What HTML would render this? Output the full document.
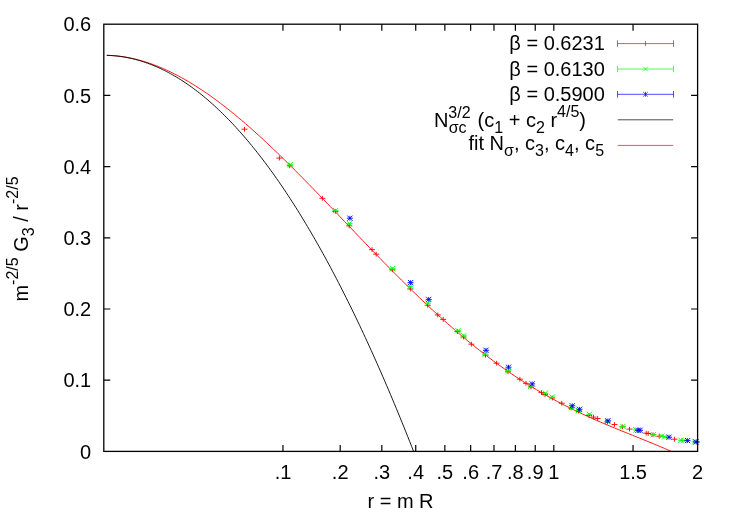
<!DOCTYPE html>
<html><head><meta charset="utf-8"><title>plot</title>
<style>
html,body{margin:0;padding:0;background:#fff;}
svg{display:block;will-change:transform}
text{font-family:"Liberation Sans",sans-serif;font-size:20px;fill:#000}
.s{font-size:16px}
.g{font-family:"Liberation Serif",serif;}
</style></head><body>
<svg width="732" height="513" viewBox="0 0 732 513">
<rect width="732" height="513" fill="#fff"/>
<path d="M103.8,380.2h6.5M697.6,380.2h-6.5M103.8,309h6.5M697.6,309h-6.5M103.8,237.8h6.5M697.6,237.8h-6.5M103.8,166.6h6.5M697.6,166.6h-6.5M103.8,95.4h6.5M697.6,95.4h-6.5M282.95,451.4v-6.5M282.95,24.2v6.5M340.2,451.4v-6.5M340.2,24.2v6.5M381.82,451.4v-6.5M381.82,24.2v6.5M415.73,451.4v-6.5M415.73,24.2v6.5M444.85,451.4v-6.5M444.85,24.2v6.5M470.65,451.4v-6.5M470.65,24.2v6.5M493.98,451.4v-6.5M493.98,24.2v6.5M515.39,451.4v-6.5M515.39,24.2v6.5M535.24,451.4v-6.5M535.24,24.2v6.5M553.82,451.4v-6.5M553.82,24.2v6.5M633.05,451.4v-6.5M633.05,24.2v6.5" stroke="#000" stroke-width="1.2" fill="none"/>
<path d="M106.8,55.34L110.35,55.47L113.9,55.7L117.45,56.03L121,56.46L124.55,56.98L128.1,57.6L131.65,58.31L135.21,59.12L138.76,60.02L142.31,61L145.86,62.08L149.41,63.25L152.96,64.51L156.51,65.85L160.06,67.27L163.61,68.78L167.16,70.38L170.71,72.05L174.26,73.81L177.81,75.64L181.36,77.55L184.92,79.54L188.47,81.6L192.02,83.74L195.57,85.94L199.12,88.22L202.67,90.56L206.22,92.97L209.77,95.45L213.32,97.99L216.87,100.59L220.42,103.26L223.97,105.98L227.52,108.76L231.07,111.6L234.63,114.49L238.18,117.43L241.73,120.42L245.28,123.47L248.83,126.56L252.38,129.69L255.93,132.87L259.48,136.09L263.03,139.36L266.58,142.66L270.13,146L273.68,149.37L277.23,152.78L280.78,156.22L284.34,159.69L287.89,163.19L291.44,166.71L294.99,170.26L298.54,173.84L302.09,177.43L305.64,181.05L309.19,184.68L312.74,188.33L316.29,191.99L319.84,195.67L323.39,199.36L326.94,203.05L330.49,206.76L334.04,210.47L337.6,214.19L341.15,217.91L344.7,221.63L348.25,225.35L351.8,229.07L355.35,232.79L358.9,236.5L362.45,240.21L366,243.9L369.55,247.59L373.1,251.27L376.65,254.94L380.2,258.59L383.75,262.22L387.31,265.84L390.86,269.45L394.41,273.03L397.96,276.59L401.51,280.13L405.06,283.65L408.61,287.15L412.16,290.62L415.71,294.06L419.26,297.48L422.81,300.86L426.36,304.22L429.91,307.55L433.46,310.84L437.02,314.1L440.57,317.33L444.12,320.52L447.67,323.68L451.22,326.81L454.77,329.89L458.32,332.94L461.87,335.95L465.42,338.92L468.97,341.86L472.52,344.75L476.07,347.6L479.62,350.41L483.17,353.18L486.72,355.91L490.28,358.6L493.83,361.24L497.38,363.85L500.93,366.41L504.48,368.92L508.03,371.4L511.58,373.83L515.13,376.22L518.68,378.57L522.23,380.87L525.78,383.13L529.33,385.35L532.88,387.53L536.43,389.67L539.99,391.77L543.54,393.83L547.09,395.85L550.64,397.83L554.19,399.77L557.74,401.68L561.29,403.54L564.84,405.38L568.39,407.18L571.94,408.94L575.49,410.68L579.04,412.38L582.59,414.05L586.14,415.69L589.7,417.31L593.25,418.9L596.8,420.47L600.35,422.01L603.9,423.54L607.45,425.04L611,426.53L614.55,428L618.1,429.46L621.65,430.91L625.2,432.35L628.75,433.78L632.3,435.21L635.85,436.64L639.41,438.07L642.96,439.5L646.51,440.94L650.06,442.38L653.61,443.84L657.16,445.31L660.71,446.8L664.26,448.31L667.81,449.85L671.36,451.41" stroke="#ff0000" stroke-width="0.9" fill="none"/>
<path d="M106.8,55.34L108.73,55.4L110.66,55.49L112.59,55.62L114.52,55.77L116.45,55.96L118.38,56.18L120.31,56.42L122.24,56.7L124.17,57.01L126.1,57.35L128.03,57.72L129.95,58.12L131.88,58.56L133.81,59.02L135.74,59.51L137.67,60.04L139.6,60.59L141.53,61.18L143.46,61.79L145.39,62.44L147.32,63.12L149.25,63.83L151.18,64.56L153.11,65.33L155.04,66.14L156.97,66.97L158.9,67.83L160.83,68.72L162.76,69.65L164.69,70.6L166.62,71.58L168.55,72.6L170.48,73.65L172.41,74.72L174.33,75.83L176.26,76.97L178.19,78.14L180.12,79.34L182.05,80.57L183.98,81.83L185.91,83.13L187.84,84.45L189.77,85.8L191.7,87.19L193.63,88.6L195.56,90.05L197.49,91.53L199.42,93.03L201.35,94.57L203.28,96.14L205.21,97.74L207.14,99.37L209.07,101.03L211,102.72L212.93,104.45L214.86,106.2L216.78,107.98L218.71,109.8L220.64,111.64L222.57,113.52L224.5,115.43L226.43,117.37L228.36,119.33L230.29,121.33L232.22,123.36L234.15,125.42L236.08,127.52L238.01,129.64L239.94,131.79L241.87,133.97L243.8,136.19L245.73,138.43L247.66,140.71L249.59,143.02L251.52,145.35L253.45,147.72L255.38,150.12L257.31,152.55L259.24,155.01L261.16,157.5L263.09,160.02L265.02,162.58L266.95,165.16L268.88,167.77L270.81,170.42L272.74,173.09L274.67,175.8L276.6,178.54L278.53,181.3L280.46,184.1L282.39,186.93L284.32,189.79L286.25,192.68L288.18,195.6L290.11,198.55L292.04,201.54L293.97,204.55L295.9,207.59L297.83,210.67L299.76,213.77L301.69,216.91L303.62,220.08L305.54,223.28L307.47,226.5L309.4,229.76L311.33,233.05L313.26,236.37L315.19,239.73L317.12,243.11L319.05,246.52L320.98,249.96L322.91,253.44L324.84,256.94L326.77,260.48L328.7,264.05L330.63,267.64L332.56,271.27L334.49,274.93L336.42,278.62L338.35,282.34L340.28,286.09L342.21,289.87L344.14,293.69L346.07,297.53L347.99,301.4L349.92,305.31L351.85,309.24L353.78,313.21L355.71,317.21L357.64,321.23L359.57,325.29L361.5,329.38L363.43,333.5L365.36,337.65L367.29,341.83L369.22,346.04L371.15,350.29L373.08,354.56L375.01,358.86L376.94,363.2L378.87,367.56L380.8,371.96L382.73,376.39L384.66,380.85L386.59,385.33L388.52,389.85L390.45,394.4L392.37,398.98L394.3,403.6L396.23,408.24L398.16,412.91L400.09,417.61L402.02,422.35L403.95,427.11L405.88,431.91L407.81,436.74L409.74,441.59L411.67,446.48L413.6,451.4" stroke="#000" stroke-width="0.9" fill="none"/>
<path d="M241.5,129.2h6M244.5,126.8v4.8M276.4,158.1h6M279.4,155.7v4.8M286.7,165.8h6M289.7,163.4v4.8M319.4,198.3h6M322.4,195.9v4.8M332.3,211.5h6M335.3,209.1v4.8M346.2,225.8h6M349.2,223.4v4.8M369,249.6h6M372,247.2v4.8M373.2,254.2h6M376.2,251.8v4.8M389.3,269.8h6M392.3,267.4v4.8M407.3,289h6M410.3,286.6v4.8M424.7,305.3h6M427.7,302.9v4.8M434.8,314.9h6M437.8,312.5v4.8M440.2,319.4h6M443.2,317v4.8M454.5,331.5h6M457.5,329.1v4.8M460.5,337h6M463.5,334.6v4.8M468.4,344.2h6M471.4,341.8v4.8M482.5,355.2h6M485.5,352.8v4.8M493.6,363.2h6M496.6,360.8v4.8M505,371.8h6M508,369.4v4.8M516.9,379.2h6M519.9,376.8v4.8M523,383.3h6M526,380.9v4.8M528,387h6M531,384.6v4.8M538.5,392.6h6M541.5,390.2v4.8M542,394.5h6M545,392.1v4.8M549.3,398h6M552.3,395.6v4.8M558.7,403.2h6M561.7,400.8v4.8M568,408h6M571,405.6v4.8M575.5,411h6M578.5,408.6v4.8M586,415.5h6M589,413.1v4.8M590.5,417.1h6M593.5,414.7v4.8M594.6,418.5h6M597.6,416.1v4.8M604.5,422h6M607.5,419.6v4.8M611.5,424.5h6M614.5,422.1v4.8M619.4,426.9h6M622.4,424.5v4.8M650,434.8h6M653,432.4v4.8M626.5,429.1h6M629.5,426.7v4.8M643.2,433.2h6M646.2,430.8v4.8M645.2,433.5h6M648.2,431.1v4.8M656.2,436.2h6M659.2,433.8v4.8M671.5,439.2h6M674.5,436.8v4.8M694,442h6M697,439.6v4.8" stroke="#ff0000" stroke-width="0.9" fill="none"/>
<path d="M287.5,162l5.4,5.4M287.5,167.4l5.4,-5.4M287.2,164.7h6M332.8,207.9l5.4,5.4M332.8,213.3l5.4,-5.4M332.5,210.6h6M346.9,221l5.4,5.4M346.9,226.4l5.4,-5.4M346.6,223.7h6M389.8,266l5.4,5.4M389.8,271.4l5.4,-5.4M389.5,268.7h6M407.4,283.7l5.4,5.4M407.4,289.1l5.4,-5.4M407.1,286.4h6M425.2,300.5l5.4,5.4M425.2,305.9l5.4,-5.4M424.9,303.2h6M455.3,328l5.4,5.4M455.3,333.4l5.4,-5.4M455,330.7h6M461,333.1l5.4,5.4M461,338.5l5.4,-5.4M460.7,335.8h6M482.5,351.3l5.4,5.4M482.5,356.7l5.4,-5.4M482.2,354h6M505.3,368l5.4,5.4M505.3,373.4l5.4,-5.4M505,370.7h6M528.1,383.3l5.4,5.4M528.1,388.7l5.4,-5.4M527.8,386h6M542.7,390.6l5.4,5.4M542.7,396l5.4,-5.4M542.4,393.3h6M549.5,394.4l5.4,5.4M549.5,399.8l5.4,-5.4M549.2,397.1h6M568.8,404.8l5.4,5.4M568.8,410.2l5.4,-5.4M568.5,407.5h6M575.8,407.8l5.4,5.4M575.8,413.2l5.4,-5.4M575.5,410.5h6M586.7,411.7l5.4,5.4M586.7,417.1l5.4,-5.4M586.4,414.4h6M604.8,418.8l5.4,5.4M604.8,424.2l5.4,-5.4M604.5,421.5h6M620.2,423.7l5.4,5.4M620.2,429.1l5.4,-5.4M619.9,426.4h6M633.3,427.3l5.4,5.4M633.3,432.7l5.4,-5.4M633,430h6M650.7,431.9l5.4,5.4M650.7,437.3l5.4,-5.4M650.4,434.6h6M659.2,433.5l5.4,5.4M659.2,438.9l5.4,-5.4M658.9,436.2h6M661.9,434.2l5.4,5.4M661.9,439.6l5.4,-5.4M661.6,436.9h6M678.3,437.6l5.4,5.4M678.3,443l5.4,-5.4M678,440.3h6M681.1,437.9l5.4,5.4M681.1,443.3l5.4,-5.4M680.8,440.6h6M692,439.2l5.4,5.4M692,444.6l5.4,-5.4M691.7,441.9h6" stroke="#00ff00" stroke-width="0.9" fill="none"/>
<path d="M346.9,218.2h6M349.9,215.8v4.8M347.3,215.6l5.2,5.2M347.3,220.8l5.2,-5.2M407.6,282.6h6M410.6,280.2v4.8M408,280l5.2,5.2M408,285.2l5.2,-5.2M425.7,299.4h6M428.7,297v4.8M426.1,296.8l5.2,5.2M426.1,302l5.2,-5.2M483,350.3h6M486,347.9v4.8M483.4,347.7l5.2,5.2M483.4,352.9l5.2,-5.2M505.5,367.2h6M508.5,364.8v4.8M505.9,364.6l5.2,5.2M505.9,369.8l5.2,-5.2M529.2,383.9h6M532.2,381.5v4.8M529.6,381.3l5.2,5.2M529.6,386.5l5.2,-5.2M569.3,405.8h6M572.3,403.4v4.8M569.7,403.2l5.2,5.2M569.7,408.4l5.2,-5.2M576.5,409.3h6M579.5,406.9v4.8M576.9,406.7l5.2,5.2M576.9,411.9l5.2,-5.2M604.9,420.8h6M607.9,418.4v4.8M605.3,418.2l5.2,5.2M605.3,423.4l5.2,-5.2M635,430.3h6M638,427.9v4.8M635.4,427.7l5.2,5.2M635.4,432.9l5.2,-5.2M637,430.3h6M640,427.9v4.8M637.4,427.7l5.2,5.2M637.4,432.9l5.2,-5.2M666,437.2h6M669,434.8v4.8M666.4,434.6l5.2,5.2M666.4,439.8l5.2,-5.2M684.6,440.6h6M687.6,438.2v4.8M685,438l5.2,5.2M685,443.2l5.2,-5.2M693,441.9h6M696,439.5v4.8M693.4,439.3l5.2,5.2M693.4,444.5l5.2,-5.2" stroke="#0000ff" stroke-width="0.9" fill="none"/>
<rect x="103.8" y="24.2" width="593.8" height="427.2" fill="none" stroke="#000" stroke-width="1.3"/>
<path d="M617.5,43.6H673.5M617.5,40.3v6.6M673.5,40.3v6.6M645.5,41.1v5" stroke="#ff0000" stroke-width="0.7" fill="none"/>
<path d="M617.5,69.0H673.5M617.5,65.7v6.6M673.5,65.7v6.6M643.2,66.7l4.6,4.6M643.2,71.3l4.6,-4.6" stroke="#00ff00" stroke-width="0.7" fill="none"/>
<path d="M617.5,94.3H673.5M617.5,91v6.6M673.5,91v6.6M643.2,92l4.6,4.6M643.2,96.6l4.6,-4.6M645.5,91.8v5" stroke="#0000ff" stroke-width="0.7" fill="none"/>
<path d="M617.8,119.8H673.2" stroke="#000" stroke-width="0.7" fill="none"/>
<path d="M617.8,145.4H673.2" stroke="#ff0000" stroke-width="0.7" fill="none"/>
<g aria-label="text layer"><text x="91.2" y="458.6" text-anchor="end">0</text>
<text x="91.2" y="387.4" text-anchor="end">0.1</text>
<text x="91.2" y="316.2" text-anchor="end">0.2</text>
<text x="91.2" y="245.0" text-anchor="end">0.3</text>
<text x="91.2" y="173.8" text-anchor="end">0.4</text>
<text x="91.2" y="102.6" text-anchor="end">0.5</text>
<text x="91.2" y="31.4" text-anchor="end">0.6</text>
<text x="283.0" y="479" text-anchor="middle">.1</text>
<text x="340.2" y="479" text-anchor="middle">.2</text>
<text x="381.8" y="479" text-anchor="middle">.3</text>
<text x="415.7" y="479" text-anchor="middle">.4</text>
<text x="444.8" y="479" text-anchor="middle">.5</text>
<text x="470.7" y="479" text-anchor="middle">.6</text>
<text x="494.0" y="479" text-anchor="middle">.7</text>
<text x="515.4" y="479" text-anchor="middle">.8</text>
<text x="535.2" y="479" text-anchor="middle">.9</text>
<text x="553.8" y="479" text-anchor="middle">1</text>
<text x="633.1" y="479" text-anchor="middle">1.5</text>
<text x="697.6" y="479" text-anchor="middle">2</text>
<text x="400.5" y="508.2" text-anchor="middle">r = m R</text>
<g transform="translate(27.6,301.6) rotate(-90)"><text x="0" y="0">m<tspan class="s" dy="-10">-2/5</tspan><tspan dy="10"> G</tspan><tspan class="s" dy="6">3</tspan><tspan dy="-6"> / r</tspan><tspan class="s" dy="-10">-2/5</tspan></text></g>
<text x="604.8" y="50.2" text-anchor="end">β = 0.6231</text>
<text x="604.8" y="75.5" text-anchor="end">β = 0.6130</text>
<text x="604.8" y="101.1" text-anchor="end">β = 0.5900</text>
<text x="433.9" y="127.0">N<tspan class="s" dy="-9.5">3/2</tspan></text><text x="448.7" y="133.0" class="s">σc</text><text x="477.6" y="127.0">(c<tspan class="s" dy="6">1</tspan><tspan dy="-6"> + c</tspan><tspan class="s" dy="6">2</tspan><tspan dy="-6"> r</tspan><tspan class="s" dy="-9.6">4/5</tspan><tspan dy="9.6">)</tspan></text>
<text x="468.5" y="149.9">fit N<tspan class="s" dy="6">σ</tspan><tspan dy="-6">, c</tspan><tspan class="s" dy="6">3</tspan><tspan dy="-6">, c</tspan><tspan class="s" dy="6">4</tspan><tspan dy="-6">, c</tspan><tspan class="s" dy="6">5</tspan></text></g>
</svg></body></html>
